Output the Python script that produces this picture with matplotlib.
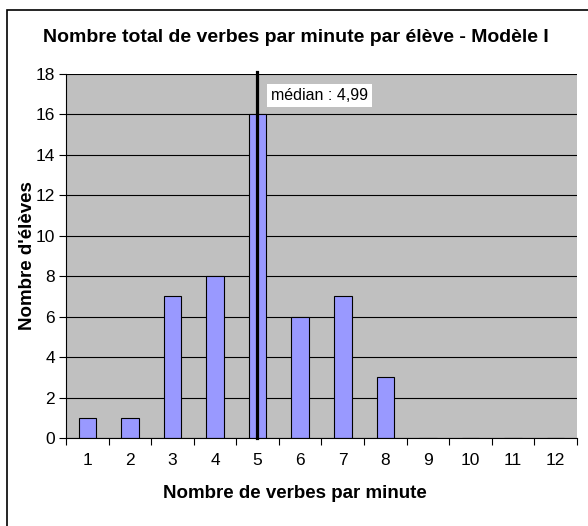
import matplotlib
matplotlib.use("Agg")
import matplotlib.pyplot as plt
from matplotlib.patches import Rectangle
from matplotlib.ticker import FixedLocator

plt.rcParams['font.family'] = ['Liberation Sans', 'DejaVu Sans']

categories = [1, 2, 3, 4, 5, 6, 7, 8, 9, 10, 11, 12]
counts = [1, 1, 7, 8, 16, 6, 7, 3, 0, 0, 0, 0]
median = 4.99
median_label = "médian : 4,99"
title = "Nombre total de verbes par minute par élève - Modèle I"
xlabel = "Nombre de verbes par minute"
ylabel = "Nombre d'élèves"
yticks = [0, 2, 4, 6, 8, 10, 12, 14, 16, 18]

fig = plt.figure(figsize=(5.88, 5.26), dpi=100)
fig.patch.set_facecolor('white')
# outer chart border (left/top visible)
fig.patches.append(Rectangle((7/588, -0.05), 1.2, 1 - 10/526 + 0.05,
                             transform=fig.transFigure, fill=False,
                             edgecolor='black', linewidth=1.2))

ax = fig.add_axes([66/588, 1 - 438/526, 511/588, (438 - 74)/526])
ax.set_facecolor('#C0C0C0')
ax.set_axisbelow(True)

ax.bar(categories, counts, width=0.41, color='#9999FF', edgecolor='black',
       linewidth=0.8, zorder=2)

ax.set_xlim(0.5, 12.5)
ax.set_ylim(0, 18)
ax.set_yticks(yticks)
ax.yaxis.grid(True, color='black', linewidth=0.8)
ax.xaxis.grid(False)

ax.set_xticks(categories)
ax.set_xticklabels([str(c) for c in categories])
ax.tick_params(axis='x', which='major', length=0, pad=11, labelsize=12.5)
ax.xaxis.set_minor_locator(FixedLocator([c + 0.5 for c in [0] + categories]))
ax.tick_params(axis='x', which='minor', length=5, width=0.8, direction='out')
ax.tick_params(axis='y', length=5, width=0.8, direction='out', labelsize=12.5, pad=3)

for s in ['top', 'right']:
    ax.spines[s].set_visible(False)
for s in ['left', 'bottom']:
    ax.spines[s].set_linewidth(0.8)
    ax.spines[s].set_color('black')

ax.plot([median, median], [0, 18.1], color='black', linewidth=2.3,
        clip_on=False, zorder=4)
ax.text(median + 0.32, 16.94, median_label, fontsize=11.5, va='center', ha='left',
        zorder=5, bbox=dict(facecolor='white', edgecolor='none', pad=3))

fig.text(296/588, 1 - 38/526, title, ha='center', va='center',
         fontsize=14, fontweight='bold')
fig.text(295/588, 1 - 494/526, xlabel, ha='center', va='center',
         fontsize=13.5, fontweight='bold')
fig.text(28/588, 1 - 256/526, ylabel, ha='center', va='center',
         fontsize=13.5, fontweight='bold', rotation=90)

fig.savefig('out.png', dpi=100)
